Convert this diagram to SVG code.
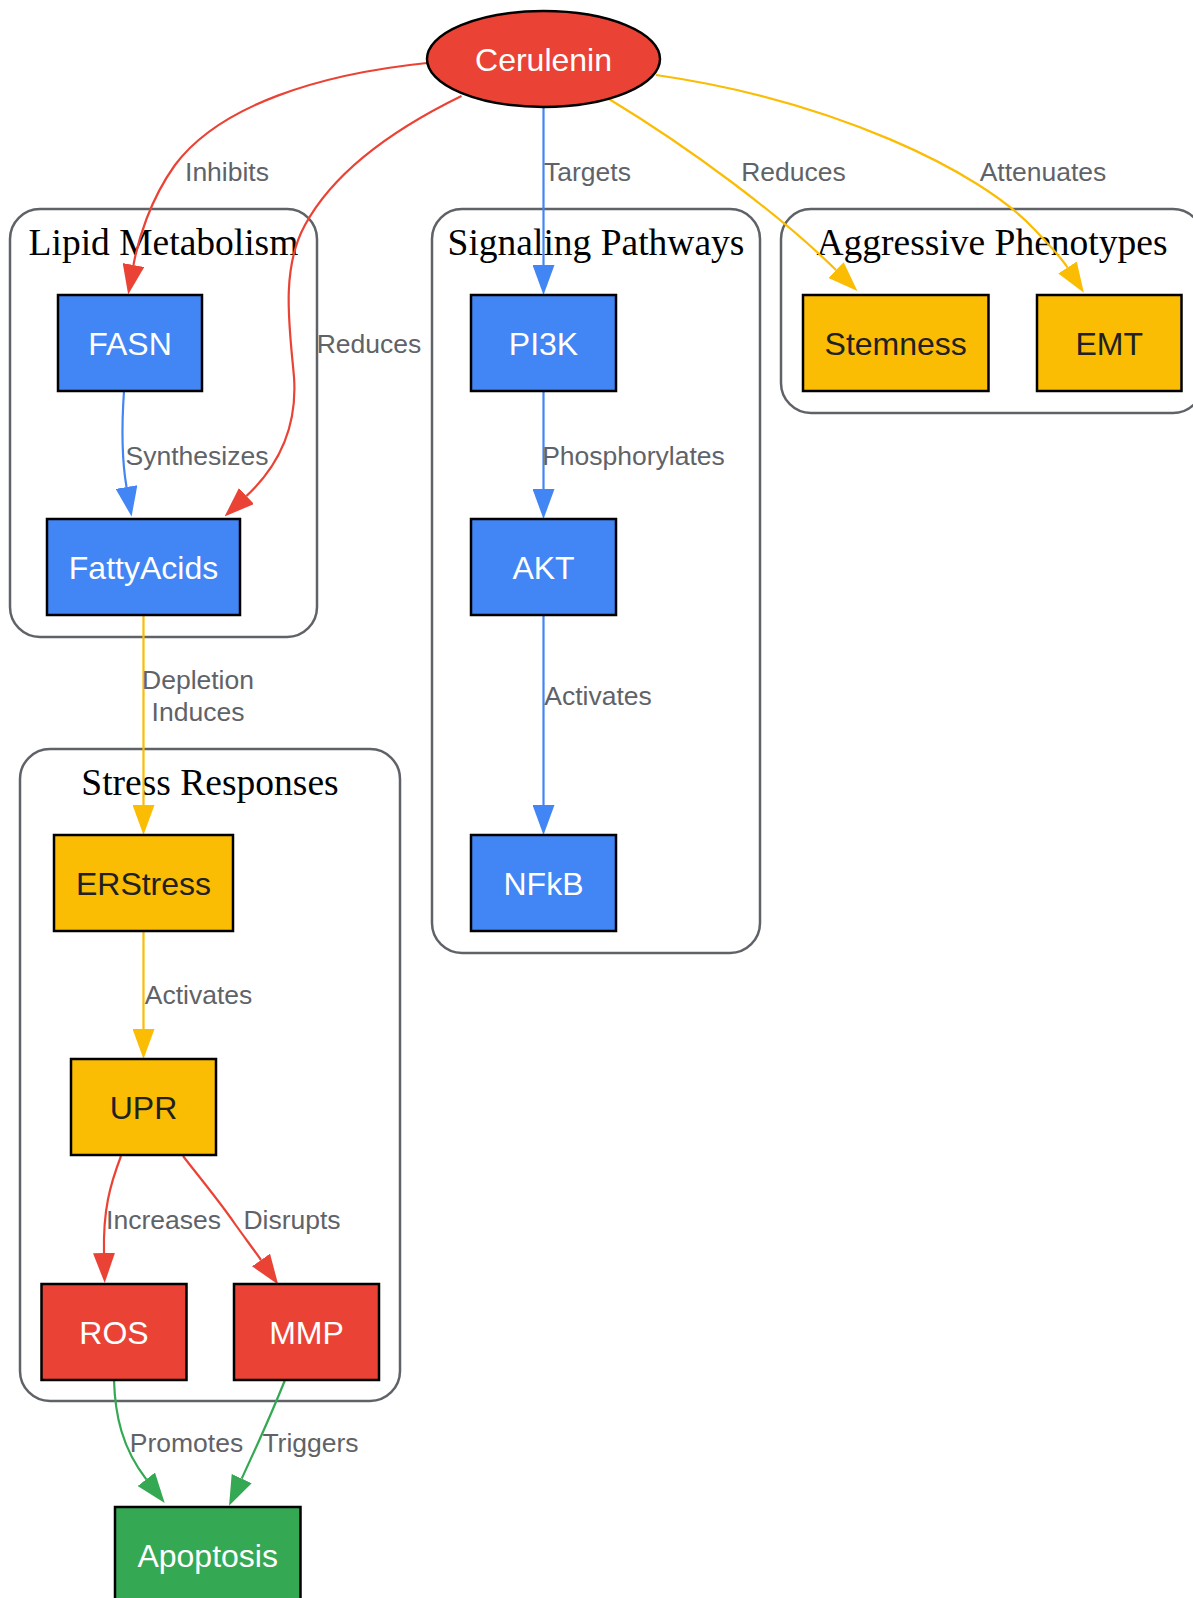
<svg xmlns="http://www.w3.org/2000/svg" width="1193" height="1598" viewBox="0 0 1193 1598">
<style>
.cluster{fill:#ffffff;stroke:#5f6368;stroke-width:2.5}
.ctitle{font-family:"Liberation Serif","Times New Roman",serif;font-size:37.5px;fill:#000;text-anchor:middle}
.node{stroke:#000;stroke-width:2.5}
.ntext{font-family:"Liberation Sans",Arial,sans-serif;font-size:32px;text-anchor:middle}
.light{fill:#ffffff}
.dark{fill:#202124}
.red{fill:#ea4335}
.blue{fill:#4285f4}
.yellow{fill:#fbbc04}
.green{fill:#34a853}
.edge{fill:none;stroke-width:2.2}
.er{stroke:#ea4335}
.eb{stroke:#4285f4}
.ey{stroke:#fbbc04}
.eg{stroke:#34a853}
.elabel{font-family:"Liberation Sans",Arial,sans-serif;font-size:26.5px;fill:#5f6368;text-anchor:middle}
</style>
<defs>
<marker id="ar" markerUnits="userSpaceOnUse" viewBox="0 0 30 22" refX="0" refY="11" markerWidth="30" markerHeight="22" orient="auto"><path d="M0,0 L30,11 L0,22 z" fill="#ea4335"/></marker>
<marker id="ab" markerUnits="userSpaceOnUse" viewBox="0 0 30 22" refX="0" refY="11" markerWidth="30" markerHeight="22" orient="auto"><path d="M0,0 L30,11 L0,22 z" fill="#4285f4"/></marker>
<marker id="ay" markerUnits="userSpaceOnUse" viewBox="0 0 30 22" refX="0" refY="11" markerWidth="30" markerHeight="22" orient="auto"><path d="M0,0 L30,11 L0,22 z" fill="#fbbc04"/></marker>
<marker id="ag" markerUnits="userSpaceOnUse" viewBox="0 0 30 22" refX="0" refY="11" markerWidth="30" markerHeight="22" orient="auto"><path d="M0,0 L30,11 L0,22 z" fill="#34a853"/></marker>
</defs>

<g id="clusters">
<g id="cluster-lipid"><rect class="cluster" x="10" y="209" width="307" height="428" rx="30"/><text class="ctitle" x="163.5" y="255">Lipid Metabolism</text></g>
<g id="cluster-signaling"><rect class="cluster" x="432" y="209" width="328" height="744" rx="30"/><text class="ctitle" x="596" y="255">Signaling Pathways</text></g>
<g id="cluster-aggressive"><rect class="cluster" x="781" y="209" width="422" height="204" rx="30"/><text class="ctitle" x="992" y="255">Aggressive Phenotypes</text></g>
<g id="cluster-stress"><rect class="cluster" x="20" y="749" width="380" height="652" rx="30"/><text class="ctitle" x="210" y="795">Stress Responses</text></g>
</g>

<g id="connectors">
<path class="edge er" d="M427,63 C 320,74 220,105 175,165 C 150,200 138,240 133.5,265" marker-end="url(#ar)"/>
<path class="edge er" d="M461.5,96 C 400,126 336,168 305,225 C 280,270 290,330 294,377 C 297,420 285,460 246.5,496" marker-end="url(#ar)"/>
<path class="edge eb" d="M543.5,107 L543.5,265" marker-end="url(#ab)"/>
<path class="edge ey" d="M609,99 C 690,148 780,215 836,270" marker-end="url(#ay)"/>
<path class="edge ey" d="M656,75 C 830,100 980,170 1035,230 C 1050,246 1060,256 1067.5,267.5" marker-end="url(#ay)"/>
<path class="edge eb" d="M124,391 C 122,420 121,455 126.5,487" marker-end="url(#ab)"/>
<path class="edge eb" d="M543.5,391 L543.5,489" marker-end="url(#ab)"/>
<path class="edge eb" d="M543.5,615 L543.5,805" marker-end="url(#ab)"/>
<path class="edge ey" d="M143.5,615 L143.5,805" marker-end="url(#ay)"/>
<path class="edge ey" d="M143.5,931 L143.5,1029" marker-end="url(#ay)"/>
<path class="edge er" d="M121,1156 C 110,1185 103,1210 104,1253" marker-end="url(#ar)"/>
<path class="edge er" d="M183,1156 C 200,1178 220,1202 235,1224 C 245,1238 254,1250 261,1260" marker-end="url(#ar)"/>
<path class="edge eg" d="M114,1380 C 115,1415 122,1448 146.3,1479.3" marker-end="url(#ag)"/>
<path class="edge eg" d="M285,1380 C 275,1405 255,1450 241.7,1478.6" marker-end="url(#ag)"/>
<text class="elabel" x="227" y="181">Inhibits</text>
<text class="elabel" x="587.5" y="181">Targets</text>
<text class="elabel" x="793.5" y="181">Reduces</text>
<text class="elabel" x="1043" y="181">Attenuates</text>
<text class="elabel" x="369" y="353">Reduces</text>
<text class="elabel" x="197" y="464.5">Synthesizes</text>
<text class="elabel" x="633.5" y="464.5">Phosphorylates</text>
<text class="elabel" x="198" y="688.5">Depletion</text>
<text class="elabel" x="198" y="720.5">Induces</text>
<text class="elabel" x="598" y="704.5">Activates</text>
<text class="elabel" x="198.5" y="1004">Activates</text>
<text class="elabel" x="163.5" y="1229">Increases</text>
<text class="elabel" x="292" y="1229">Disrupts</text>
<text class="elabel" x="186.5" y="1452">Promotes</text>
<text class="elabel" x="310.5" y="1452">Triggers</text>
</g>

<g id="node-cerulenin"><ellipse class="node red" cx="543.5" cy="59" rx="116.5" ry="48"/><text class="ntext light" x="543.5" y="71">Cerulenin</text></g>
<g id="node-fasn"><rect class="node blue" x="58" y="295" width="144" height="96"/><text class="ntext light" x="130" y="355">FASN</text></g>
<g id="node-fattyacids"><rect class="node blue" x="47" y="519" width="193" height="96"/><text class="ntext light" x="143.5" y="579">FattyAcids</text></g>
<g id="node-pi3k"><rect class="node blue" x="471" y="295" width="145" height="96"/><text class="ntext light" x="543.5" y="355">PI3K</text></g>
<g id="node-akt"><rect class="node blue" x="471" y="519" width="145" height="96"/><text class="ntext light" x="543.5" y="579">AKT</text></g>
<g id="node-nfkb"><rect class="node blue" x="471" y="835" width="145" height="96"/><text class="ntext light" x="543.5" y="895">NFkB</text></g>
<g id="node-stemness"><rect class="node yellow" x="803" y="295" width="185.5" height="96"/><text class="ntext dark" x="895.7" y="355">Stemness</text></g>
<g id="node-emt"><rect class="node yellow" x="1037" y="295" width="144.5" height="96"/><text class="ntext dark" x="1109.2" y="355">EMT</text></g>
<g id="node-erstress"><rect class="node yellow" x="54" y="835" width="179" height="96"/><text class="ntext dark" x="143.5" y="895">ERStress</text></g>
<g id="node-upr"><rect class="node yellow" x="71" y="1059" width="145" height="96"/><text class="ntext dark" x="143.5" y="1119">UPR</text></g>
<g id="node-ros"><rect class="node red" x="41.5" y="1284" width="145" height="96"/><text class="ntext light" x="114" y="1344">ROS</text></g>
<g id="node-mmp"><rect class="node red" x="234" y="1284" width="145" height="96"/><text class="ntext light" x="306.5" y="1344">MMP</text></g>
<g id="node-apoptosis"><rect class="node green" x="115" y="1507" width="185.5" height="96"/><text class="ntext light" x="207.7" y="1567">Apoptosis</text></g>
</svg>
